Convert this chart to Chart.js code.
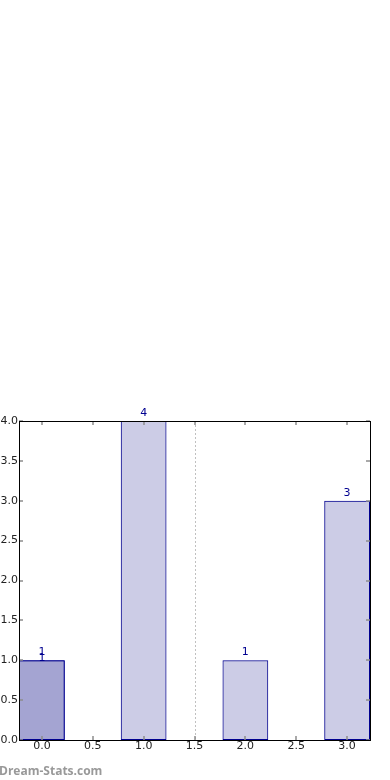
<!DOCTYPE html>
<html>
<head>
<meta charset="utf-8">
<script src="https://cdn.jsdelivr.net/npm/chart.js@4"></script>
<style>
  body { margin: 0; background: #fff; }
  .wrap { width: 390px; height: 780px; position: relative; }
</style>
</head>
<body>
<div class="wrap"><canvas id="chart"></canvas></div>
<script>
const positions = [0, 1, 2, 3];
const counts = [1, 4, 1, 3];
const overlayPositions = [0];
const overlayCounts = [1];
const xTicks = [0, 0.5, 1, 1.5, 2, 2.5, 3];
const yTicks = [0, 0.5, 1, 1.5, 2, 2.5, 3, 3.5, 4];
const markerX = 1.5;

const fill = 'rgba(0, 0, 128, 0.2)';
const edge = '#000090';

const extras = {
  id: 'extras',
  beforeDatasetsDraw(chart) {
    const { ctx, chartArea: a, scales: { x } } = chart;
    ctx.save();
    ctx.strokeStyle = '#c0c0c0';
    ctx.lineWidth = 1;
    ctx.setLineDash([2, 2]);
    const px = Math.round(x.getPixelForValue(markerX)) + 0.5;
    ctx.beginPath();
    ctx.moveTo(px, a.top);
    ctx.lineTo(px, a.bottom);
    ctx.stroke();
    ctx.restore();
  },
  afterDatasetsDraw(chart) {
    const { ctx, chartArea: a, scales: { x, y } } = chart;
    ctx.save();
    // inside tick marks
    ctx.strokeStyle = 'rgba(140, 140, 140, 0.75)';
    ctx.lineWidth = 2;
    xTicks.forEach(v => {
      const px = Math.round(x.getPixelForValue(v));
      ctx.beginPath();
      ctx.moveTo(px, a.top); ctx.lineTo(px, a.top + 4);
      ctx.moveTo(px, a.bottom); ctx.lineTo(px, a.bottom - 4);
      ctx.stroke();
    });
    yTicks.forEach(v => {
      const py = Math.round(y.getPixelForValue(v));
      ctx.beginPath();
      ctx.moveTo(a.left, py); ctx.lineTo(a.left + 4, py);
      ctx.moveTo(a.right, py); ctx.lineTo(a.right - 4, py);
      ctx.stroke();
    });
    // frame
    ctx.strokeStyle = '#000';
    ctx.lineWidth = 1;
    ctx.strokeRect(Math.round(a.left) + 0.5, Math.round(a.top) + 0.5,
      Math.round(a.right - a.left), Math.round(a.bottom - a.top));
    // value labels
    ctx.fillStyle = edge;
    ctx.font = '11px "DejaVu Sans"';
    ctx.textAlign = 'center';
    ctx.textBaseline = 'middle';
    chart.data.datasets.forEach((ds, di) => {
      const off = di === 0 ? 8 : 2;
      chart.getDatasetMeta(di).data.forEach((bar, i) => {
        ctx.fillText(String(ds.data[i].y), bar.x, bar.y - off);
      });
    });
    // watermark
    ctx.fillStyle = '#999';
    ctx.font = 'bold 12px "Open Sans"';
    ctx.textAlign = 'left';
    ctx.textBaseline = 'alphabetic';
    ctx.fillText('Dream-Stats.com', -1, 775);
    ctx.restore();
  }
};

new Chart(document.getElementById('chart'), {
  type: 'bar',
  data: {
    datasets: [
      {
        data: positions.map((p, i) => ({ x: p, y: counts[i] })),
        backgroundColor: fill,
        borderColor: edge,
        borderWidth: 1,
        borderSkipped: false
      },
      {
        data: overlayPositions.map((p, i) => ({ x: p, y: overlayCounts[i] })),
        backgroundColor: fill,
        borderColor: edge,
        borderWidth: 1,
        borderSkipped: false
      }
    ]
  },
  options: {
    responsive: true,
    maintainAspectRatio: false,
    animation: false,
    grouped: false,
    categoryPercentage: 1,
    barPercentage: 0.9,
    layout: { padding: { top: 421, right: 20, bottom: 20, left: 0 } },
    plugins: { legend: { display: false }, tooltip: { enabled: false } },
    scales: {
      x: {
        type: 'linear',
        offset: false,
        min: -0.225,
        max: 3.225,
        grid: { display: false, drawTicks: false, offset: false },
        border: { display: false },
        afterFit: s => { s.height = 20; },
        ticks: {
          stepSize: 0.5,
          includeBounds: false,
          padding: 0,
          color: '#222',
          font: { family: 'DejaVu Sans', size: 11 },
          callback: v => v.toFixed(1)
        }
      },
      y: {
        min: 0,
        max: 4,
        grid: { display: false, drawTicks: false },
        border: { display: false },
        afterFit: s => { s.width = 19; },
        ticks: {
          stepSize: 0.5,
          padding: 1,
          color: '#222',
          font: { family: 'DejaVu Sans', size: 11 },
          callback: v => v.toFixed(1)
        }
      }
    }
  },
  plugins: [extras]
});
</script>
</body>
</html>
